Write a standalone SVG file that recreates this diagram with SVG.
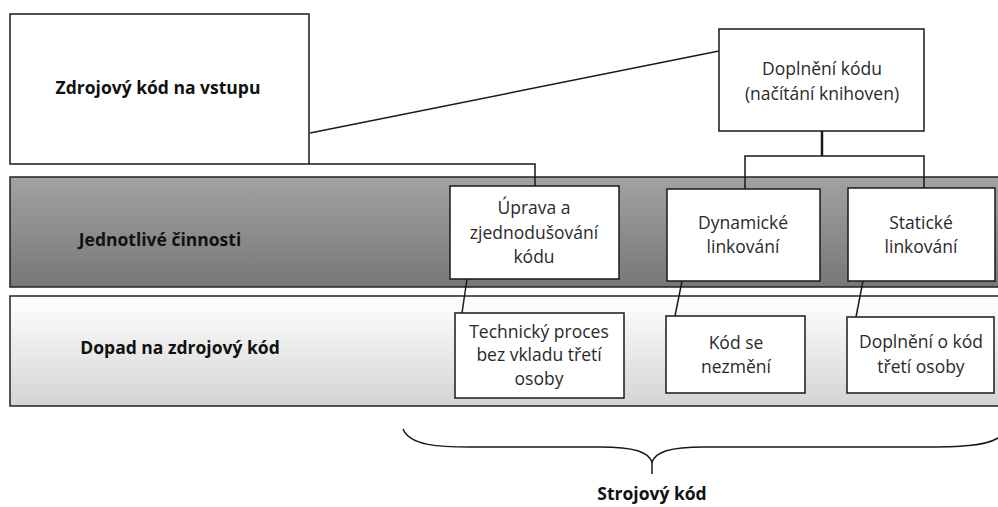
<svg xmlns="http://www.w3.org/2000/svg" width="998" height="507" viewBox="0 0 998 507">
<defs>
<linearGradient id="gDark" x1="0" y1="0" x2="0" y2="1">
<stop offset="0" stop-color="#a2a2a2"/>
<stop offset="1" stop-color="#777777"/>
</linearGradient>
<linearGradient id="gLight" x1="0" y1="0" x2="0" y2="1">
<stop offset="0" stop-color="#ffffff"/>
<stop offset="1" stop-color="#d4d4d4"/>
</linearGradient>
<style>
.box{fill:#fff;stroke:#1a1a1a;stroke-width:1.5}
.band{stroke:#222;stroke-width:1.5}
.con{fill:none;stroke:#1a1a1a;stroke-width:1.5}
.t{font-family:"Open Sans","Liberation Sans",sans-serif;font-size:17.5px;fill:#2a2a2a;text-anchor:middle}
.b{font-family:"Open Sans","Liberation Sans",sans-serif;font-size:17.5px;font-weight:bold;fill:#111;text-anchor:middle}
</style>
</defs>
<rect width="998" height="507" fill="#fff"/>
<g id="band-cinnosti">
<rect class="band" x="10" y="177" width="992" height="110" fill="url(#gDark)"/>
<text class="b" x="160" y="246">Jednotlivé činnosti</text>
</g>
<g id="band-dopad">
<rect class="band" x="10" y="296" width="992" height="110" fill="url(#gLight)"/>
<text class="b" x="180" y="354">Dopad na zdrojový kód</text>
</g>
<g id="connectors">
<line class="con" x1="310" y1="133" x2="719" y2="51"/>
<polyline class="con" points="309,164 535,164 535,186"/>
<polyline class="con" points="822,131 822,156" style="stroke-width:2.5"/>
<polyline class="con" points="745,189 745,156 924,156 924,188"/>
<line class="con" x1="467" y1="279" x2="462" y2="313"/>
<line class="con" x1="682" y1="281" x2="675" y2="316"/>
<line class="con" x1="863" y1="281" x2="856" y2="317"/>
<path class="con" d="M403,429 C410,446 440,447 470,447 L600,447 C635,447 648,452 652,462 C656,452 669,447 704,447 L920,447 C960,447 985,446 998,438"/>
<line class="con" x1="652" y1="462" x2="652" y2="474"/>
</g>
<g id="zdrojovy">
<rect class="box" x="10" y="14" width="299" height="150"/>
<text class="b" x="158" y="94">Zdrojový kód na vstupu</text>
</g>
<g id="doplneni-kodu">
<rect class="box" x="719" y="29" width="205" height="102"/>
<text class="t" x="822" y="75">Doplnění kódu</text>
<text class="t" x="822" y="100">(načítání knihoven)</text>
</g>
<g id="uprava">
<rect class="box" x="450" y="186" width="169" height="93"/>
<text class="t" x="534" y="214">Úprava a</text>
<text class="t" x="534" y="239">zjednodušování</text>
<text class="t" x="534" y="263">kódu</text>
</g>
<g id="dynamicke">
<rect class="box" x="667" y="189" width="153" height="92"/>
<text class="t" x="743" y="229">Dynamické</text>
<text class="t" x="743" y="253">linkování</text>
</g>
<g id="staticke">
<rect class="box" x="848" y="188" width="147" height="93"/>
<text class="t" x="921" y="229">Statické</text>
<text class="t" x="921" y="253">linkování</text>
</g>
<g id="technicky">
<rect class="box" x="455" y="313" width="169" height="85"/>
<text class="t" x="539" y="338">Technický proces</text>
<text class="t" x="539" y="361">bez vkladu třetí</text>
<text class="t" x="539" y="385">osoby</text>
</g>
<g id="kod-se-nezmeni">
<rect class="box" x="666" y="316" width="139" height="77"/>
<text class="t" x="736" y="349">Kód se</text>
<text class="t" x="736" y="373">nezmění</text>
</g>
<g id="doplneni-o-kod">
<rect class="box" x="847" y="317" width="147" height="76"/>
<text class="t" x="921" y="348">Doplnění o kód</text>
<text class="t" x="921" y="373">třetí osoby</text>
</g>
<g id="strojovy">
<text class="b" x="652" y="500">Strojový kód</text>
</g>
</svg>
